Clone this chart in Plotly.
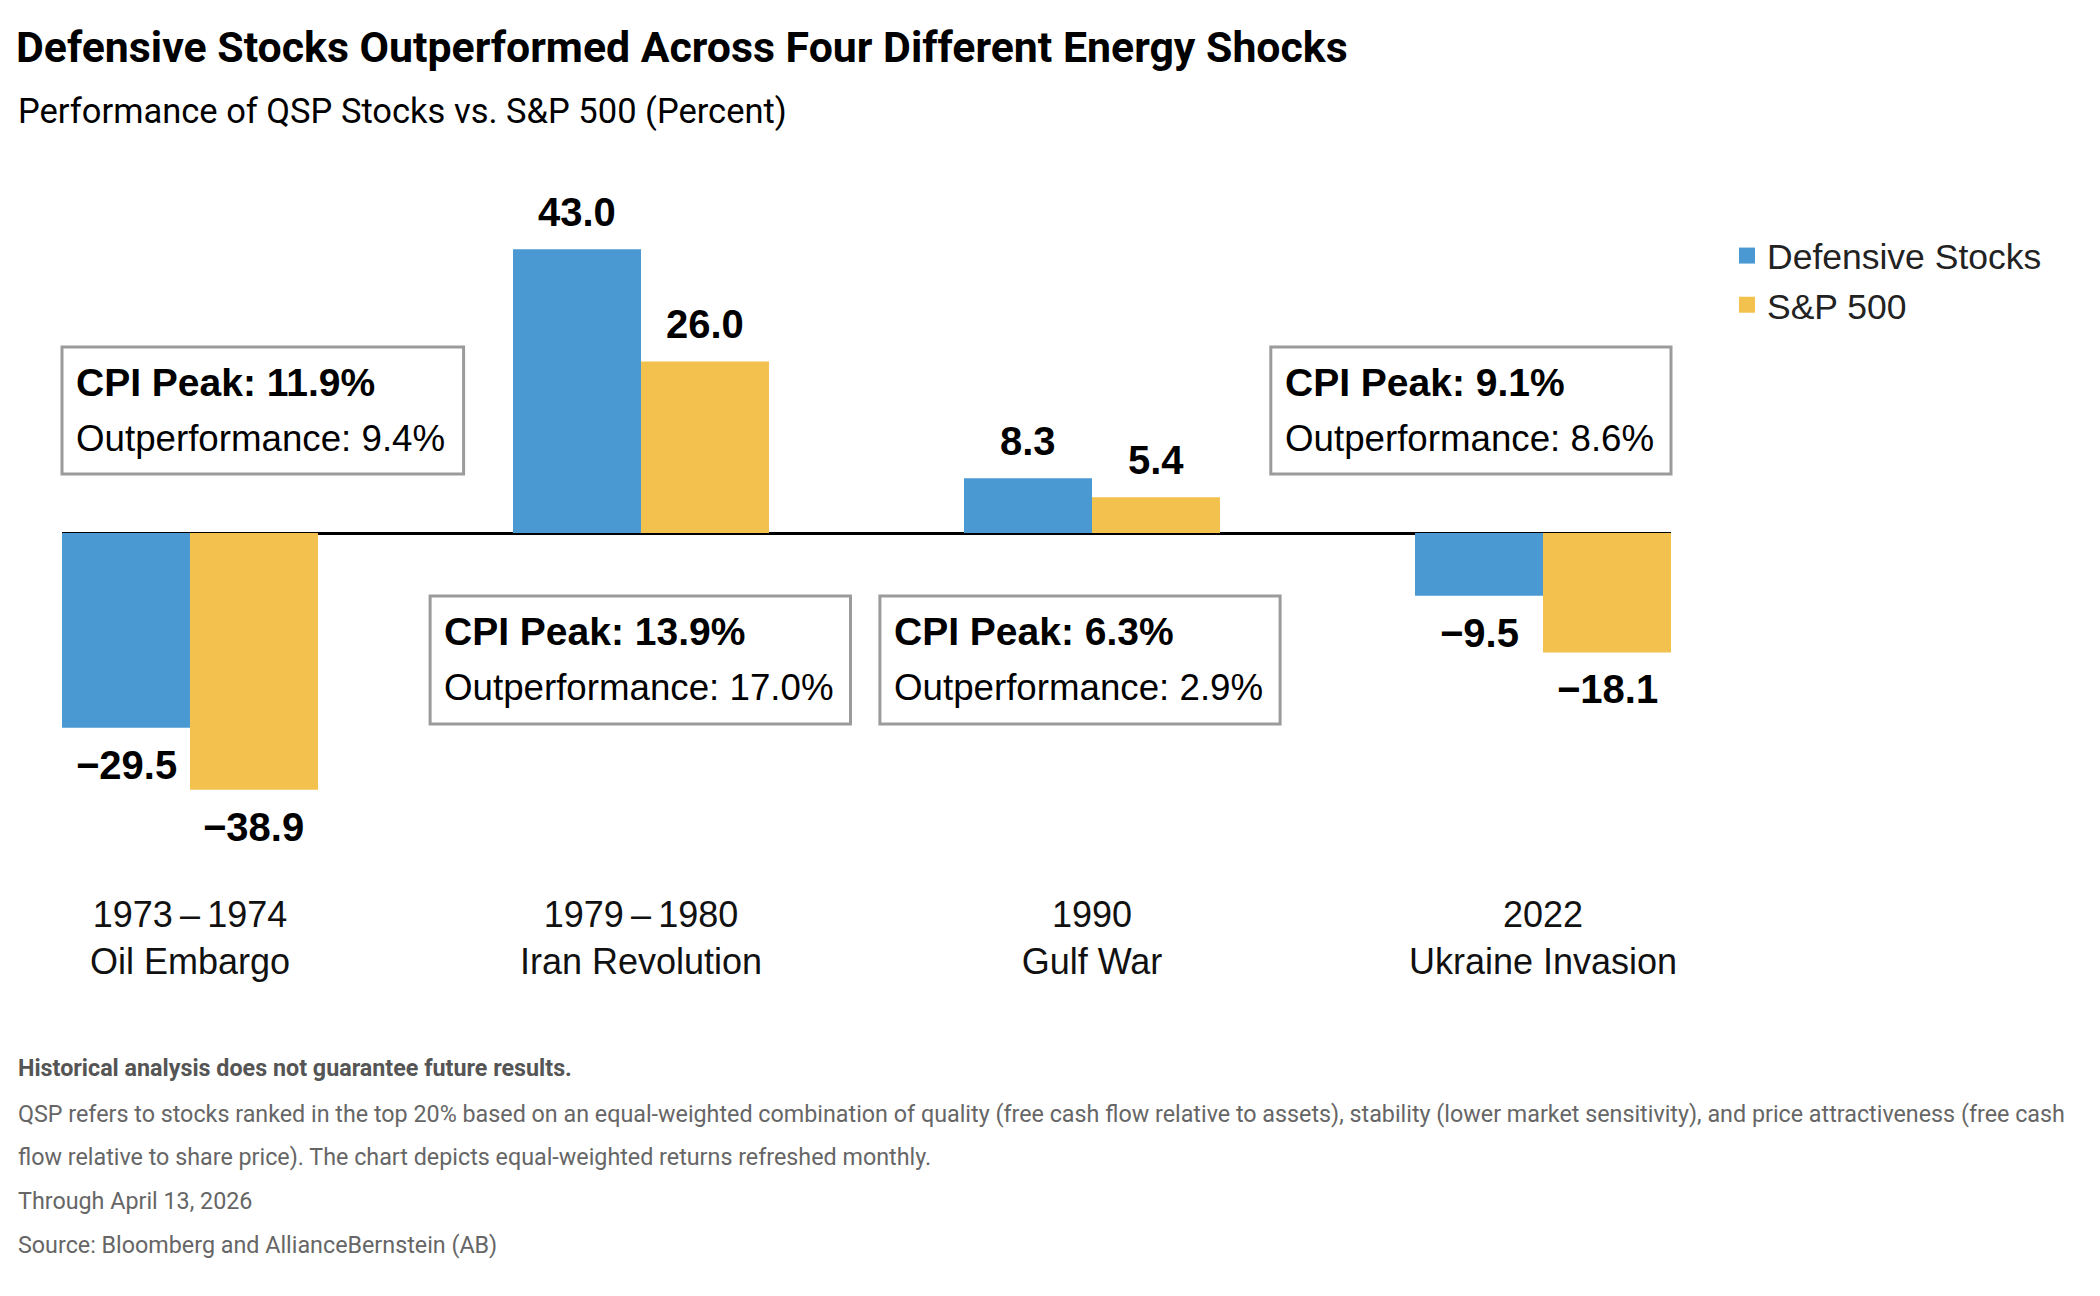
import plotly.graph_objects as go

# ---------------- data ----------------
periods = ["1973\u2009–\u20091974", "1979\u2009–\u20091980", "1990", "2022"]
events = ["Oil Embargo", "Iran Revolution", "Gulf War", "Ukraine Invasion"]
defensive = [-29.5, 43.0, 8.3, -9.5]
sp500 = [-38.9, 26.0, 5.4, -18.1]
cpi_peak = [11.9, 13.9, 6.3, 9.1]
outperformance = [9.4, 17.0, 2.9, 8.6]
series_names = ["Defensive Stocks", "S&P 500"]

# ---------------- style ----------------
OFF = 8  # page body margin
FW, FH = 2100 - 2 * OFF, 1296 - 2 * OFF
# plot area in reference (window) pixels
PL, PR, PT, PB = 61.6, 1671.0, 200.0, 880.0
ZERO_PX = 533.0
PX_PER_UNIT = 6.6
BLUE = "#4A99D3"
YELLOW = "#F3C14E"
BAR_W = 0.2838
SANS = "Liberation Sans, Arial, sans-serif"
DIN = "Roboto, sans-serif"


def px_x(x):
    return (x - PL) / (PR - PL)


def px_y(y):
    return (PB - y) / (PB - PT)


def fmt(v):
    return f"{v:.1f}".replace("-", "−")


fig = go.Figure()
for vals, name, col, off in ((defensive, series_names[0], BLUE, -BAR_W),
                             (sp500, series_names[1], YELLOW, 0)):
    fig.add_trace(go.Bar(x=list(range(len(periods))), y=vals, name=name, legendgroup=name,
                         showlegend=False, marker=dict(color=col, line=dict(width=0)),
                         offset=off, width=BAR_W))
    # legend entry with a larger square swatch
    fig.add_trace(go.Scatter(x=[None], y=[None], mode="markers", name=name, legendgroup=name,
                             marker=dict(symbol="square", size=16, color=col, line=dict(width=0))))

annotations = []
# value labels
for vals, off in ((defensive, -BAR_W / 2), (sp500, BAR_W / 2)):
    for i, v in enumerate(vals):
        annotations.append(dict(x=i + off, y=v, xref="x", yref="y", text=f"<b>{fmt(v)}</b>",
                                showarrow=False, yshift=37 if v >= 0 else -37, yanchor="middle",
                                xanchor="center", font=dict(family=SANS, size=40, color="#000")))

# CPI boxes (reference pixel boxes)
boxes = [(61.6, 463.3, 347, 474), (429.8, 850.3, 596, 724),
         (879.7, 1280.0, 596, 724), (1270.7, 1671.0, 347, 474)]
shapes = []
for i, (x0, x1, y0, y1) in enumerate(boxes):
    shapes.append(dict(type="rect", xref="paper", yref="paper", x0=px_x(x0), x1=px_x(x1),
                       y0=px_y(y1), y1=px_y(y0), line=dict(color="#9B9B9B", width=3),
                       fillcolor="white", layer="above"))
    annotations.append(dict(x=px_x(x0 + 12), y=px_y(y0 + 35), xref="paper", yref="paper",
                            text=f"<b>CPI Peak: {cpi_peak[i]:.1f}%</b>", showarrow=False,
                            xanchor="left", yanchor="middle",
                            font=dict(family=SANS, size=39, color="#000")))
    annotations.append(dict(x=px_x(x0 + 12), y=px_y(y0 + 91), xref="paper", yref="paper",
                            text=f"Outperformance: {outperformance[i]:.1f}%", showarrow=False,
                            xanchor="left", yanchor="middle",
                            font=dict(family=SANS, size=36.7, color="#000")))

# subtitle
annotations.append(dict(x=px_x(16), y=px_y(111), xref="paper", yref="paper",
                        text="Performance of QSP Stocks vs. S&P 500 (Percent)", showarrow=False,
                        xanchor="left", yanchor="middle", font=dict(family=DIN, size=34.5, color="#000")))

# footer
footer = [
    ("<b>Historical analysis does not guarantee future results.</b>", 1068, "#555555"),
    ("QSP refers to stocks ranked in the top 20% based on an equal-weighted combination of quality "
     "(free cash flow relative to assets), stability (lower market sensitivity), and price attractiveness (free cash",
     1114, "#666666"),
    ("flow relative to share price). The chart depicts equal-weighted returns refreshed monthly.", 1157, "#666666"),
    ("Through April 13, 2026", 1201, "#666666"),
    ("Source: Bloomberg and AllianceBernstein (AB)", 1245, "#666666"),
]
for txt, yy, col in footer:
    annotations.append(dict(x=px_x(16), y=px_y(yy), xref="paper", yref="paper", text=txt,
                            showarrow=False, xanchor="left", yanchor="middle",
                            font=dict(family=DIN, size=23.3, color=col)))

fig.update_layout(
    width=FW, height=FH,
    margin=dict(l=PL - OFF, r=FW - (PR - OFF), t=PT - OFF, b=FH - (PB - OFF), pad=0),
    paper_bgcolor="white", plot_bgcolor="white",
    barmode="overlay",
    title=dict(text="<b>Defensive Stocks Outperformed Across Four Different Energy Shocks</b>",
               x=(16 - OFF) / FW, xanchor="left", xref="container", y=1 - (47 - OFF) / FH,
               yanchor="middle", yref="container", font=dict(family=DIN, size=42.8, color="#000")),
    xaxis=dict(range=[-BAR_W, len(periods) - 1 + BAR_W], tickvals=list(range(len(periods))),
               ticktext=[f"{p}<br>{e}" for p, e in zip(periods, events)],
               tickfont=dict(family=SANS, size=36, color="#111"), showgrid=False, zeroline=False,
               showline=False, ticks="", ticklabelstandoff=10),
    yaxis=dict(range=[-(PB - ZERO_PX) / PX_PER_UNIT, (ZERO_PX - PT) / PX_PER_UNIT],
               showticklabels=False, showgrid=False, zeroline=True, zerolinecolor="#000",
               zerolinewidth=2.5, ticks=""),
    legend=dict(x=(1727 - OFF) / FW, xref="container", xanchor="left", y=1 - (226 - OFF) / FH,
                yref="container", yanchor="top", font=dict(family=SANS, size=35.5, color="#222"),
                bgcolor="rgba(0,0,0,0)", tracegroupgap=0, traceorder="normal"),
    shapes=shapes,
    annotations=annotations,
    showlegend=True,
)

fig.write_html("out.html")
